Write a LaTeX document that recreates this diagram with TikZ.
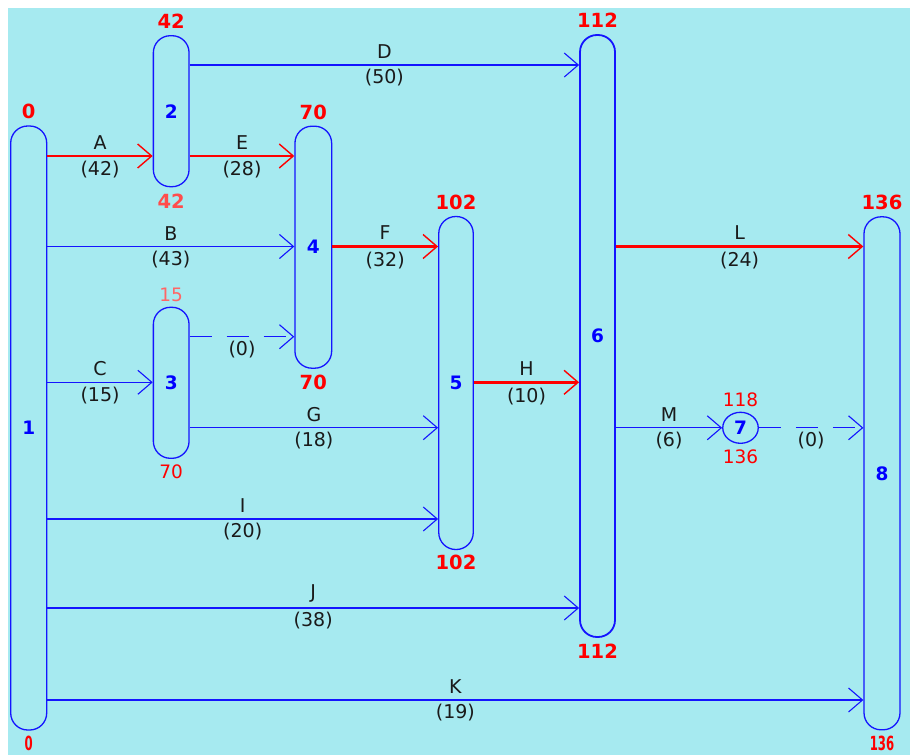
\documentclass[tikz,border=0pt]{standalone}
\usepackage{fontspec}
\usepackage{graphicx}
\setmainfont{DejaVu Sans}
\usetikzlibrary{arrows.meta,shapes.geometric}
\definecolor{bg}{HTML}{A6EAF0}
\definecolor{eblue}{HTML}{1414FF}
\definecolor{ered}{HTML}{FF0000}
\definecolor{ntext}{HTML}{1A1A1A}
\tikzset{
  capsule/.style={draw=eblue, line width=1.3pt, rounded corners=17pt, minimum width=35pt,
    inner sep=0pt, font=\fontsize{18.5}{18.5}\selectfont\bfseries, text=blue},
  evt/.style={draw=eblue, line width=1.3pt, ellipse, minimum width=35.5pt, minimum height=31pt,
    inner sep=0pt, font=\fontsize{18.5}{18.5}\selectfont\bfseries, text=blue},
  act/.style={draw=eblue, line width=1.1pt, -{Straight Barb[length=14pt,width=24pt,line width=1.1pt]}},
  crit/.style={draw=ered, line width=2.6pt, -{Straight Barb[length=14pt,width=24pt,line width=1.4pt]}},
  dum/.style={act, dash pattern=on 22.5pt off 14.5pt},
  nm/.style={inner sep=0pt, font=\fontsize{19}{19}\selectfont, text=ntext},
  nmab/.style={nm, above=5.5pt},
  nmbe/.style={nm, below=4pt},
  tbold/.style={inner sep=0pt, text=ered, font=\fontsize{19.5}{20}\selectfont\bfseries},
  tthin/.style={inner sep=0pt, text=ered, font=\fontsize{18.5}{19}\selectfont}
}
\begin{document}
\begin{tikzpicture}[x=1pt,y=-1pt]
\useasboundingbox (0,0) rectangle (910,755);
\fill[bg] (8,8) rectangle (910,755);

% event nodes
\node[capsule, minimum width=36pt, minimum height=604pt] (n1) at (28.7,428) {1};
\node[capsule, minimum width=35.7pt, minimum height=151pt] (n2) at (171.2,111.2) {2};
\node[capsule, minimum width=35.7pt, minimum height=151pt] (n3) at (171.2,382.8) {3};
\node[capsule, minimum width=36.7pt, minimum height=242pt] (n4) at (313.3,247.2) {4};
\node[capsule, minimum width=34.5pt, minimum height=333pt] (n5) at (456,383) {5};
\node[capsule, minimum width=35pt, minimum height=602pt, line width=1.8pt] (n6) at (597.5,336) {6};
\node[evt] (n7) at (740.5,427.8) {7};
\node[capsule, minimum width=36pt, minimum height=513pt] (n8) at (882,473.3) {8};

% times
\node[tbold, above=6pt] at (n1.north) {0};
\node[tbold, below=5.5pt] at (n1.south) {\scalebox{0.6}[1]{0}};
\node[tbold, above=6pt] at (n2.north) {42};
\node[tbold, below=6pt, text=ered!70] at (n2.south) {42};
\node[tthin, above=5pt, text=ered!60] at (n3.north) {15};
\node[tthin, below=6pt] at (n3.south) {70};
\node[tbold, above=6pt] at (n4.north) {70};
\node[tbold, below=5.5pt] at (n4.south) {70};
\node[tbold, above=6pt] at (n5.north) {102};
\node[tbold, below=5pt] at (n5.south) {102};
\node[tbold, above=6pt] at (n6.north) {112};
\node[tbold, below=5.5pt] at (n6.south) {112};
\node[tthin, above=4.5pt] at (n7.north) {118};
\node[tthin, below=5.5pt] at (n7.south) {136};
\node[tbold, above=6pt] at (n8.north) {136};
\node[tbold, below=5.5pt] at (n8.south) {\scalebox{0.6}[1]{136}};

% activities
\draw[crit] (n1.east |- 0,156) -- node[nmab]{A} node[nmbe]{(42)} (n2.west |- 0,156);
\draw[crit] (n2.east |- 0,156) -- node[nmab]{E} node[nmbe]{(28)} (n4.west |- 0,156);
\draw[act]  (n2.east |- 0,65) -- node[nmab]{D} node[nmbe]{(50)} (n6.west |- 0,65);
\draw[act]  (n1.east |- 0,246.5) -- node[nmab]{B} node[nmbe]{(43)} (n4.west |- 0,246.5);
\draw[crit] (n4.east |- 0,246.5) -- node[nmab]{F} node[nmbe]{(32)} (n5.west |- 0,246.5);
\draw[dum]  (n3.east |- 0,336.7) -- node[nmbe]{(0)} (n4.west |- 0,336.7);
\draw[act]  (n1.east |- 0,382.3) -- node[nmab]{C} node[nmbe]{(15)} (n3.west |- 0,382.3);
\draw[act]  (n3.east |- 0,427.7) -- node[nmab]{G} node[nmbe]{(18)} (n5.west |- 0,427.7);
\draw[act]  (n1.east |- 0,519) -- node[nmab]{I} node[nmbe]{(20)} (n5.west |- 0,519);
\draw[crit] (n5.east |- 0,382.3) -- node[nmab]{H} node[nmbe]{(10)} (n6.west |- 0,382.3);
\draw[act]  (n1.east |- 0,608) -- node[nmab]{J} node[nmbe]{(38)} (n6.west |- 0,608);
\draw[act]  (n1.east |- 0,700) -- node[nmab]{K} node[nmbe]{(19)} (n8.west |- 0,700);
\draw[crit] (n6.east |- 0,246.5) -- node[nmab]{L} node[nmbe]{(24)} (n8.west |- 0,246.5);
\draw[act]  (n6.east |- n7.west) -- node[nmab]{M} node[nmbe]{(6)} (n7.west);
\draw[dum]  (n7.east) -- node[nmbe]{(0)} (n8.west |- n7.east);
\end{tikzpicture}
\end{document}
